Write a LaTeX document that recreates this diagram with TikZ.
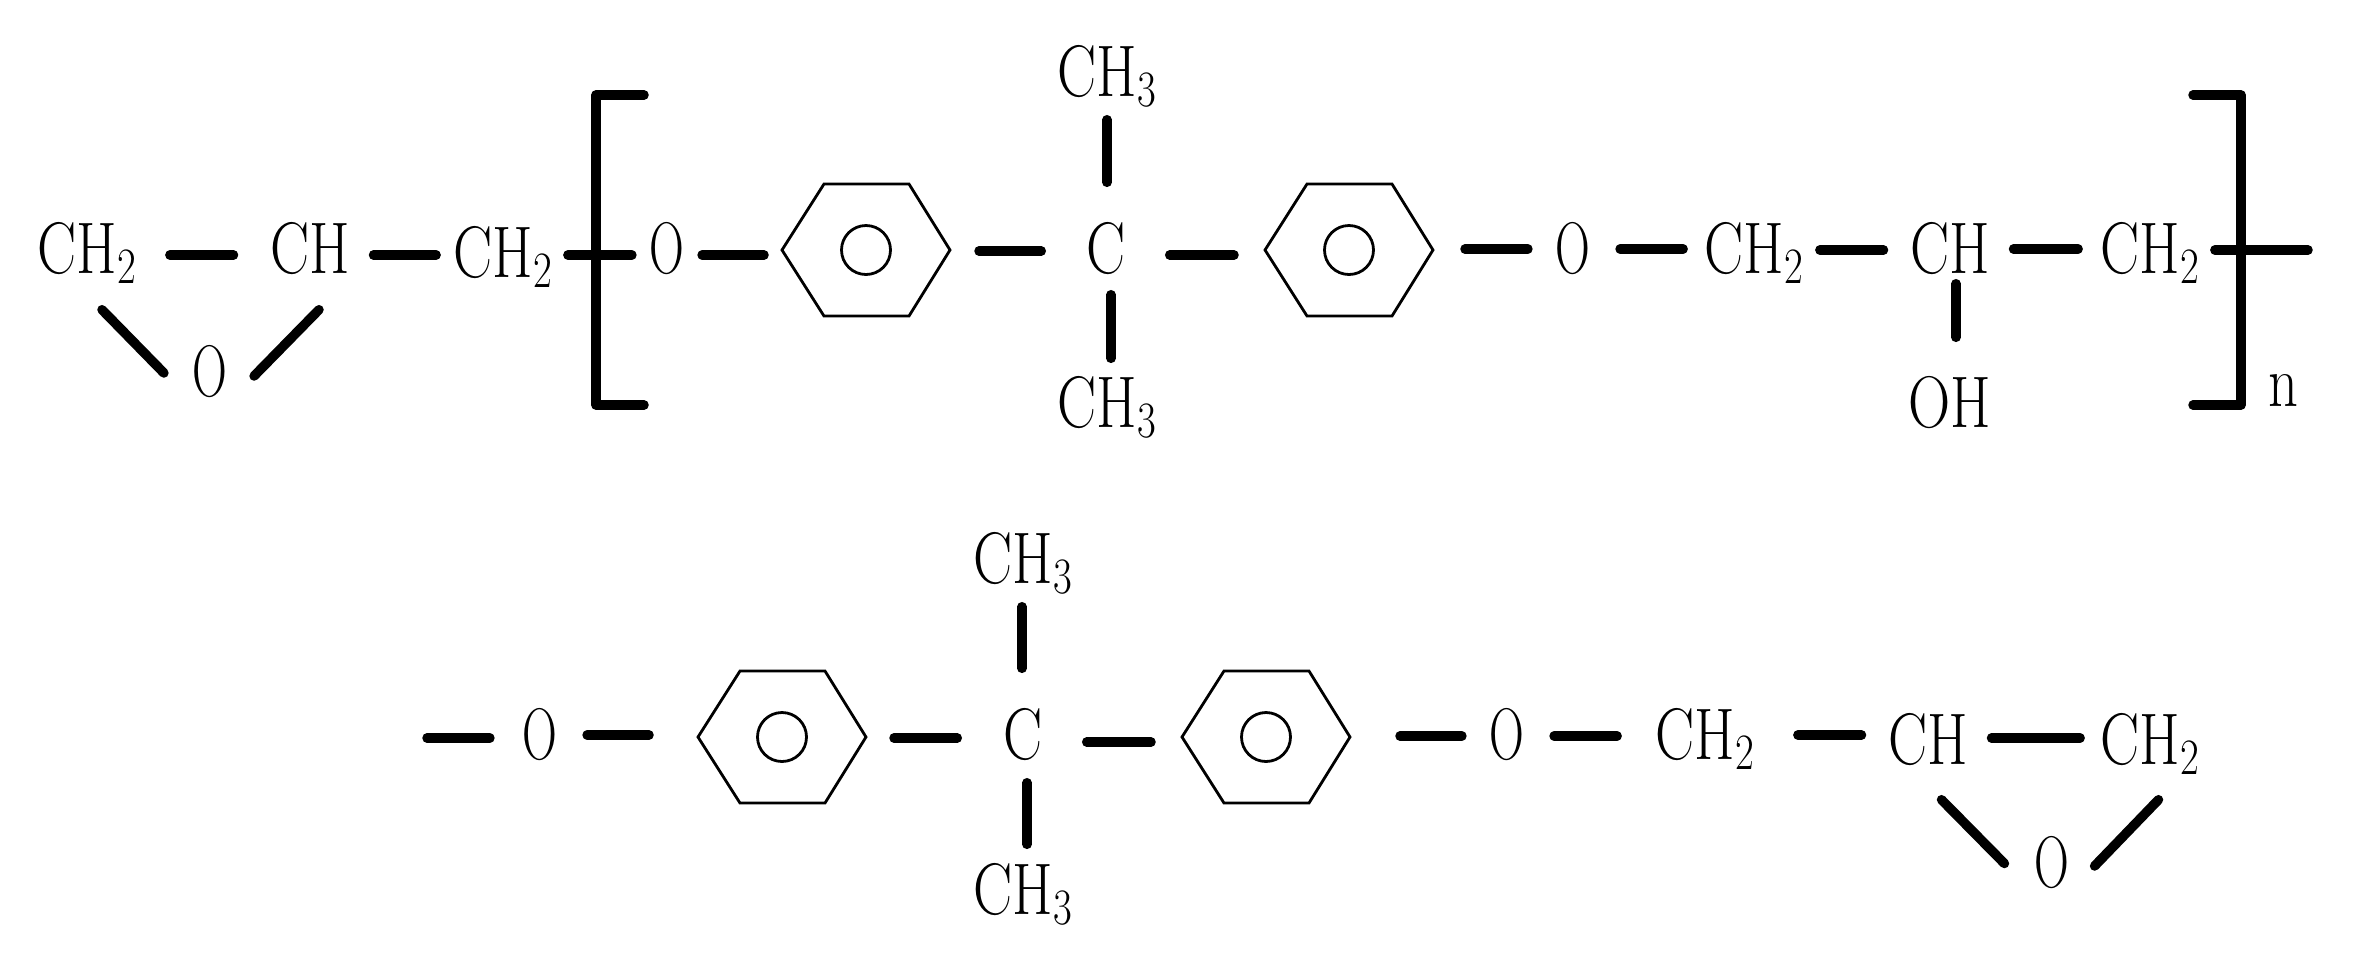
\documentclass[tikz,border=0pt]{standalone}
\usepackage{fontspec}
\newfontfamily\atomfont[FakeStretch=0.8]{Latin Modern Roman}
\newfontfamily\oxyfont[FakeStretch=0.66]{Latin Modern Roman}
\newcommand{\subidx}[1]{\raisebox{-1mm}{\fontsize{14.5pt}{15pt}\selectfont #1}}
\tikzset{
 atom/.style={inner ysep=0pt,inner xsep=-0.4mm,text height=5mm,text depth=0pt,font=\fontsize{20.8pt}{24pt}\atomfont},
 oxy/.style={atom,font=\fontsize{20.8pt}{24pt}\oxyfont},
 bond/.style={line width=0.95mm,line cap=round,line join=round},
 benzene/.pic={
  \draw[line width=0.28mm] (-84,0)--(-42,-66)--(43,-66)--(84,0)--(43,66)--(-42,66)--cycle;
  \draw[line width=0.28mm] (0,0) circle (24.5);
  \coordinate (-w) at (-84,0);
  \coordinate (-e) at (84,0);
 }
}

\begin{document}
\begin{tikzpicture}[x=0.1mm,y=-0.1mm]
 \useasboundingbox (0,0) rectangle (2364,968);

 \node[atom] (ch2a) at (87,248) {CH\subidx{2}};
 \node[atom] (cha) at (310,248) {CH};
 \node[atom] (ch2b) at (503,252) {CH\subidx{2}};
 \node[oxy] (oa) at (210,371) {O};
 \node[oxy] (ob) at (667,248) {O};
 \pic (hexa) at (866,250) {benzene};
 \node[atom] (ca) at (1106,248) {C};
 \node[atom] (mea) at (1107,71) {CH\subidx{3}};
 \node[atom] (meb) at (1107,402) {CH\subidx{3}};
 \pic (hexb) at (1349,250) {benzene};
 \node[oxy] (oc) at (1573,248) {O};
 \node[atom] (ch2c) at (1754,248) {CH\subidx{2}};
 \node[atom] (chb) at (1950,248) {CH};
 \node[atom] (ch2d) at (2150,248) {CH\subidx{2}};
 \node[atom] (oh) at (1950,402) {OH};
 \node[atom,text height=3.4mm] (idx) at (2283,389) {n};
 \coordinate (enda) at (2308,250);

 \draw[bond] ([shift={(37,7)}]ch2a.east) -- ([shift={(-40,7)}]cha.west);
 \draw[bond] ([shift={(27,7)}]cha.east) -- ([shift={(-21,3)}]ch2b.west);
 \draw[bond] ([shift={(19,3)}]ch2b.east) -- ([shift={(-21,7)}]ob.west);
 \draw[bond] ([shift={(21,7)}]ob.east) -- ([shift={(-18,5)}]hexa-w);
 \draw[bond] ([shift={(29,1)}]hexa-e) -- ([shift={(-48.5,3)}]ca.west);
 \draw[bond] ([shift={(47.5,7)}]ca.east) -- ([shift={(-31,5)}]hexb-w);
 \draw[bond] ([shift={(32,-1)}]hexb-e) -- ([shift={(-31,1)}]oc.west);
 \draw[bond] ([shift={(33,1)}]oc.east) -- ([shift={(-25,1)}]ch2c.west);
 \draw[bond] ([shift={(20,2)}]ch2c.east) -- ([shift={(-30,2)}]chb.west);
 \draw[bond] ([shift={(27,1)}]chb.east) -- ([shift={(-26,1)}]ch2d.west);
 \draw[bond] ([shift={(19,2)}]ch2d.east) -- (enda);
 \draw[bond] ([shift={(0,23)}]mea.south) -- ([shift={(1,-40)}]ca.north);
 \draw[bond] ([shift={(5,21)}]ca.south) -- ([shift={(4,-18)}]meb.north);
 \draw[bond] ([shift={(6,10)}]chb.south) -- ([shift={(6,-39)}]oh.north);
 \draw[bond] ([shift={(15,36)}]ch2a.south) -- ([shift={(-32,2)}]oa.west);
 \draw[bond] ([shift={(9,36)}]cha.south) -- ([shift={(30,5)}]oa.east);

 \draw[bond] (644,95) -- (596,95) -- (596,405) -- (644,405);
 \draw[bond] (2193,95) -- (2241,95) -- (2241,405) -- (2193,405);

 \coordinate (endb) at (427,738);
 \node[oxy] (od) at (540,734) {O};
 \pic (hexc) at (782,737) {benzene};
 \node[atom] (cb) at (1023,734) {C};
 \node[atom] (mec) at (1023,558) {CH\subidx{3}};
 \node[atom] (med) at (1023,889) {CH\subidx{3}};
 \pic (hexd) at (1266,737) {benzene};
 \node[oxy] (oe) at (1507,734) {O};
 \node[atom] (ch2e) at (1705,734) {CH\subidx{2}};
 \node[atom] (chc) at (1928,739) {CH};
 \node[atom] (ch2f) at (2150,739) {CH\subidx{2}};
 \node[oxy] (of) at (2052,862) {O};

 \draw[bond] (endb) -- ([shift={(-36,4)}]od.west);
 \draw[bond] ([shift={(33,1)}]od.east) -- ([shift={(-49,-2)}]hexc-w);
 \draw[bond] ([shift={(28,1)}]hexc-e) -- ([shift={(-49.5,4)}]cb.west);
 \draw[bond] ([shift={(47.5,8)}]cb.east) -- ([shift={(-31,5)}]hexd-w);
 \draw[bond] ([shift={(50,-1)}]hexd-e) -- ([shift={(-31,2)}]oe.west);
 \draw[bond] ([shift={(33,2)}]oe.east) -- ([shift={(-42,2)}]ch2e.west);
 \draw[bond] ([shift={(47,1)}]ch2e.east) -- ([shift={(-30,-4)}]chc.west);
 \draw[bond] ([shift={(27,-1)}]chc.east) -- ([shift={(-24,-1)}]ch2f.west);
 \draw[bond] ([shift={(-1,23)}]mec.south) -- ([shift={(-1,-40)}]cb.north);
 \draw[bond] ([shift={(4,23)}]cb.south) -- ([shift={(4,-19)}]med.north);
 \draw[bond] ([shift={(13.5,35)}]chc.south) -- ([shift={(-33.5,1.5)}]of.west);
 \draw[bond] ([shift={(8.5,35)}]ch2f.south) -- ([shift={(28.5,4)}]of.east);
\end{tikzpicture}
\end{document}
